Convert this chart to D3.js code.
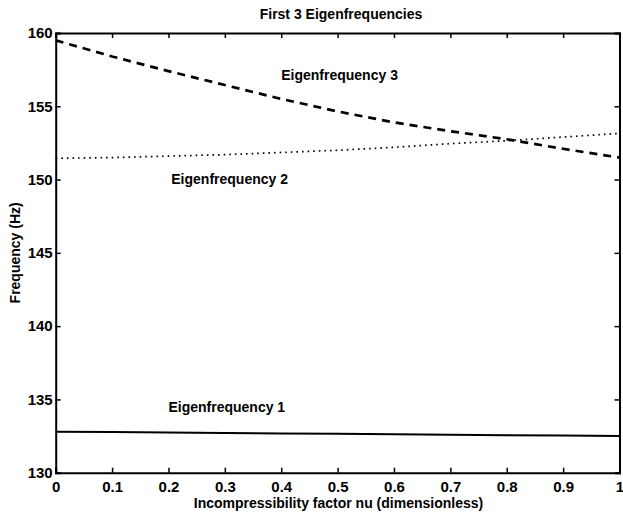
<!DOCTYPE html>
<html>
<head>
<meta charset="utf-8">
<script src="https://cdn.jsdelivr.net/npm/d3@7"></script>
<style>
html,body{margin:0;padding:0;background:#fff;}
svg{display:block;}
text{font-family:"Liberation Sans",Arial,Helvetica,sans-serif;font-weight:bold;fill:#000;}
</style>
</head>
<body>
<svg id="chart" width="623" height="514"></svg>
<script>
// ---- data ----
const nu = [0, 0.1, 0.2, 0.3, 0.4, 0.5, 0.6, 0.7, 0.8, 0.9, 1.0];
const eig1 = [132.8, 132.77, 132.74, 132.71, 132.68, 132.65, 132.62, 132.59, 132.56, 132.53, 132.5];
const eig2 = [151.45, 151.5, 151.6, 151.7, 151.85, 152.0, 152.2, 152.45, 152.65, 152.9, 153.15];
const eig3 = [159.5, 158.4, 157.4, 156.45, 155.5, 154.65, 153.9, 153.3, 152.75, 152.1, 151.5];
const xTicks = [0, 0.1, 0.2, 0.3, 0.4, 0.5, 0.6, 0.7, 0.8, 0.9, 1];
const xTickLabels = ["0", "0.1", "0.2", "0.3", "0.4", "0.5", "0.6", "0.7", "0.8", "0.9", "1"];
const yTicks = [130, 135, 140, 145, 150, 155, 160];
const labels = [
  {text: "Eigenfrequency 3", x: 0.40, y: 157.1},
  {text: "Eigenfrequency 2", x: 0.205, y: 150.0},
  {text: "Eigenfrequency 1", x: 0.20, y: 134.5}
];
const titleText = "First 3 Eigenfrequencies";
const xLabel = "Incompressibility factor nu (dimensionless)";
const yLabel = "Frequency (Hz)";

// ---- layout ----
const L = 55.7, R = 619.5, T = 33, B = 472.7;
const svg = d3.select("#chart");
const x = d3.scaleLinear().domain([0, 1]).range([L, R]);
const y = d3.scaleLinear().domain([130, 160]).range([B, T]);

// lines
const line = d3.line().x((d, i) => x(nu[i])).y(d => y(d));
svg.append("path").datum(eig1).attr("d", line)
  .attr("fill", "none").attr("stroke", "#000").attr("stroke-width", 2);
svg.append("path").datum(eig2).attr("d", line)
  .attr("fill", "none").attr("stroke", "#000").attr("stroke-width", 1.7)
  .attr("stroke-dasharray", "1.6,4");
svg.append("path").datum(eig3).attr("d", line)
  .attr("fill", "none").attr("stroke", "#000").attr("stroke-width", 2.7)
  .attr("stroke-dasharray", "8,6");

// axes (ticks inward, box)
const tl = 5;
const gB = svg.append("g").attr("transform", `translate(0,${B})`)
  .call(d3.axisBottom(x).tickValues(xTicks).tickSize(-tl).tickPadding(10)
    .tickFormat((d, i) => xTickLabels[i]));
const gT = svg.append("g").attr("transform", `translate(0,${T})`)
  .call(d3.axisTop(x).tickValues(xTicks).tickSize(-tl).tickFormat(""));
const gL = svg.append("g").attr("transform", `translate(${L},0)`)
  .call(d3.axisLeft(y).tickValues(yTicks).tickSize(-tl).tickPadding(4).tickFormat(d3.format("d")));
const gR = svg.append("g").attr("transform", `translate(${R},0)`)
  .call(d3.axisRight(y).tickValues(yTicks).tickSize(-tl).tickFormat(""));
[gB, gT, gL, gR].forEach(g => {
  g.select(".domain").attr("stroke", "#000").attr("stroke-width", 2);
  g.selectAll(".tick line").attr("stroke", "#000").attr("stroke-width", 1.5);
  g.selectAll("text").style("font-size", "15px").style("font-weight", "bold")
    .style("font-family", '"Liberation Sans",Arial,sans-serif').attr("fill", "#000");
});
gB.selectAll(".tick text").attr("dy", "0.71em").attr("y", 9);
gL.selectAll(".tick text").attr("x", -3);

// curve labels
svg.selectAll("text.lab").data(labels).enter().append("text")
  .attr("class", "lab")
  .attr("x", d => x(d.x)).attr("y", d => y(d.y))
  .attr("dy", "0.35em")
  .style("font-size", "14px")
  .text(d => d.text);

// title
svg.append("text").attr("x", 341).attr("y", 19)
  .attr("text-anchor", "middle").style("font-size", "14px")
  .text(titleText);
// x label
svg.append("text").attr("x", 338.5).attr("y", 508)
  .attr("text-anchor", "middle").style("font-size", "14px")
  .text(xLabel);
// y label
svg.append("text").attr("transform", `translate(20,${(T + B) / 2}) rotate(-90)`)
  .attr("text-anchor", "middle").style("font-size", "14px")
  .text(yLabel);
</script>
</body>
</html>
